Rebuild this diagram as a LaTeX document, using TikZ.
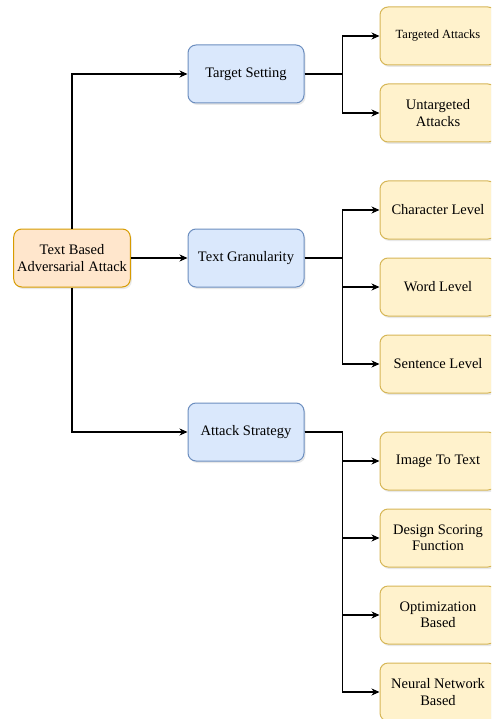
\documentclass[tikz,border=0pt]{standalone}
\usepackage{fontspec}
\setmainfont{Liberation Serif}
\usepackage{tikz}
\usetikzlibrary{arrows.meta,shadows}
\definecolor{rootfill}{HTML}{FFE6CC}
\definecolor{rootline}{HTML}{D79B00}
\definecolor{midfill}{HTML}{DAE8FC}
\definecolor{midline}{HTML}{6C8EBF}
\definecolor{leaffill}{HTML}{FFF2CC}
\definecolor{leafline}{HTML}{D6B656}
\tikzstyle{box}=[rounded corners=8pt, line width=1pt, minimum width=116pt, minimum height=58pt, align=center, font=\fontsize{14.5}{16.5}\selectfont, drop shadow={shadow xshift=1.5pt, shadow yshift=-2pt, opacity=0.18}]
\tikzstyle{rootbox}=[box, draw=rootline, fill=rootfill]
\tikzstyle{midbox}=[box, draw=midline, fill=midfill]
\tikzstyle{leafbox}=[box, draw=leafline, fill=leaffill]
\tikzstyle{link}=[line width=1.1pt, -{Stealth[length=8pt,width=7pt,inset=2.5pt]}]

\begin{document}
\begin{tikzpicture}[x=1pt, y=-1pt]
	\clip (0,0) rectangle (491,719);
	\node[rootbox] (root) at (72,258) {Text Based\\Adversarial Attack};
	\node[midbox] (ts) at (246,74) {Target Setting};
	\node[midbox] (tg) at (246,258) {Text Granularity};
	\node[midbox] (atk) at (246,432) {Attack Strategy};
	\node[leafbox, font=\fontsize{12.5}{14.5}\selectfont] (ta) at (438,36) {Targeted Attacks};
	\node[leafbox] (ua) at (438,113) {Untargeted\\Attacks};
	\node[leafbox] (cl) at (438,210) {Character Level};
	\node[leafbox] (wl) at (438,287) {Word Level};
	\node[leafbox] (sl) at (438,364) {Sentence Level};
	\node[leafbox] (it) at (438,461) {Image To Text};
	\node[leafbox] (ds) at (438,538) {Design Scoring\\Function};
	\node[leafbox] (ob) at (438,615) {Optimization\\Based};
	\node[leafbox] (nn) at (438,692) {Neural Network\\Based};
	\draw[link] (root.north) |- (ts.west);
	\draw[link] (root.east) -- (tg.west);
	\draw[link] (root.south) |- (atk.west);
	\foreach \n in {ta,ua}
		\draw[link] (ts.east) -- ++(38,0) |- (\n.west);
	\foreach \n in {cl,wl,sl}
		\draw[link] (tg.east) -- ++(38,0) |- (\n.west);
	\foreach \n in {it,ds,ob,nn}
		\draw[link] (atk.east) -- ++(38,0) |- (\n.west);
\end{tikzpicture}
\end{document}
